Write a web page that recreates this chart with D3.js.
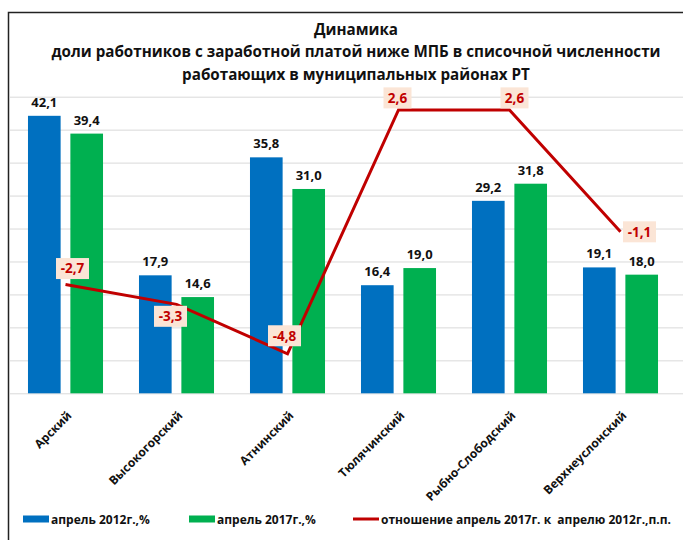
<!DOCTYPE html>
<html>
<head>
<meta charset="utf-8">
<script src="https://d3js.org/d3.v7.min.js"></script>
<style>
  body { margin: 0; background: #fff; }
  svg text { font-family: "Open Sans", "DejaVu Sans", sans-serif; font-weight: bold; }
</style>
</head>
<body>
<div id="chart"></div>
<script>

// data
var categories = ["Арский", "Высокогорский", "Атнинский", "Тюлячинский", "Рыбно-Слободский", "Верхнеуслонский"];
var values2012 = [42.1, 17.9, 35.8, 16.4, 29.2, 19.1];
var values2017 = [39.4, 14.6, 31.0, 19.0, 31.8, 18.0];
var diffPP = [-2.7, -3.3, -4.8, 2.6, 2.6, -1.1];
var seriesNames = ["апрель 2012г.,%", "апрель 2017г.,%", "отношение апрель 2017г. к  апрелю 2012г.,п.п."];
var titleLines = ["Динамика",
    "доли работников с заработной платой ниже МПБ в списочной численности",
    "работающих в муниципальных районах РТ"];
var yDomain = [0, 45];
var y2Domain = [-6, 3];

var width = 683, height = 540;
var plotLeft = 10, plotRight = 676, plotTop = 96.7, plotBottom = 393.3;

var blue = "#0070c0", green = "#00b050", red = "#c00000";

var ru = d3.formatLocale({decimal: ",", thousands: " ", grouping: [3], currency: ["", ""], minus: "-"});
var fmt = ru.format(".1f");

var svg = d3.select("#chart").append("svg")
    .attr("width", width)
    .attr("height", height);

// outer frame (only top and left visible, chart is cropped)
svg.append("path")
    .attr("d", "M8.5,540 L8.5,12.5 L683,12.5")
    .attr("fill", "none")
    .attr("stroke", "#222")
    .attr("stroke-width", 1.5);

// title
svg.append("g").selectAll("text")
    .data(titleLines)
    .enter().append("text")
    .attr("x", 356)
    .attr("y", function (d, i) { return [35, 57, 80][i]; })
    .attr("text-anchor", "middle")
    .attr("font-size", "15.2px")
    .attr("fill", "#111")
    .text(function (d) { return d; });

var x0 = d3.scaleBand()
    .domain(categories)
    .range([plotLeft, plotRight])
    .paddingInner(0.324)
    .paddingOuter(0.162);

var x1 = d3.scaleBand()
    .domain(["a", "b"])
    .range([0, x0.bandwidth()])
    .paddingInner(0.23);

var y = d3.scaleLinear().domain(yDomain).range([plotBottom, plotTop]);
var y2 = d3.scaleLinear().domain(y2Domain).range([plotBottom, plotTop]);

// gridlines
var grid = svg.append("g")
    .attr("transform", "translate(" + plotLeft + ",0)")
    .call(d3.axisLeft(y).tickValues(d3.range(yDomain[0], yDomain[1] + 1, 5)).tickSize(-(width - plotLeft)).tickFormat(""));
grid.select(".domain").remove();
grid.selectAll("line").attr("stroke", "#d9d9d9").attr("stroke-width", 1);

// bars
var groups = svg.append("g").selectAll("g")
    .data(categories)
    .enter().append("g")
    .attr("transform", function (d) { return "translate(" + x0(d) + ",0)"; });

groups.append("rect")
    .attr("x", x1("a"))
    .attr("y", function (d, i) { return y(values2012[i]); })
    .attr("width", x1.bandwidth())
    .attr("height", function (d, i) { return y(0) - y(values2012[i]); })
    .attr("fill", blue);

groups.append("rect")
    .attr("x", x1("b"))
    .attr("y", function (d, i) { return y(values2017[i]); })
    .attr("width", x1.bandwidth())
    .attr("height", function (d, i) { return y(0) - y(values2017[i]); })
    .attr("fill", green);

// bar value labels
groups.append("text")
    .attr("x", x1("a") + x1.bandwidth() / 2)
    .attr("y", function (d, i) { return y(values2012[i]) - 9; })
    .attr("text-anchor", "middle")
    .attr("font-size", "13px")
    .attr("fill", "#111")
    .text(function (d, i) { return fmt(values2012[i]); });

groups.append("text")
    .attr("x", x1("b") + x1.bandwidth() / 2)
    .attr("y", function (d, i) { return y(values2017[i]) - 9; })
    .attr("text-anchor", "middle")
    .attr("font-size", "13px")
    .attr("fill", "#111")
    .text(function (d, i) { return fmt(values2017[i]); });

// x axis labels
var xAxis = svg.append("g")
    .attr("transform", "translate(0," + plotBottom + ")")
    .call(d3.axisBottom(x0).tickSize(0).tickPadding(0));
xAxis.select(".domain").remove();
xAxis.selectAll("text")
    .attr("font-size", "12px")
    .attr("fill", "#111")
    .attr("text-anchor", "end")
    .attr("dy", "0.35em")
    .attr("transform", "translate(4,20) rotate(-45)");

// line on secondary axis
var cx = function (d, i) { return x0(categories[i]) + x0.bandwidth() / 2; };
var line = d3.line()
    .x(function (d, i) { return cx(d, i); })
    .y(function (d) { return y2(d); });

svg.append("path")
    .datum(diffPP)
    .attr("d", line)
    .attr("fill", "none")
    .attr("stroke", red)
    .attr("stroke-width", 3);

// line labels (hand placed like in the original)
var labelOffset = [[7, -16], [-6, 12], [-3, -18], [-1, -12], [5, -12], [19, 0]];
var lbl = svg.append("g").selectAll("g")
    .data(diffPP)
    .enter().append("g")
    .attr("transform", function (d, i) {
        return "translate(" + (cx(d, i) + labelOffset[i][0]) + "," + (y2(d) + labelOffset[i][1]) + ")";
    });

lbl.append("rect")
    .attr("x", function (d) { return d < 0 ? -16.5 : -14; })
    .attr("y", -10.5)
    .attr("width", function (d) { return d < 0 ? 33 : 28; })
    .attr("height", 21)
    .attr("fill", "#fbe5d6");

lbl.append("text")
    .attr("text-anchor", "middle")
    .attr("dy", "0.36em")
    .attr("font-size", "13.5px")
    .attr("fill", red)
    .text(function (d) { return fmt(d); });

// legend
var legendX = [23, 189, 353];
var legend = svg.append("g").selectAll("g")
    .data(seriesNames)
    .enter().append("g")
    .attr("transform", function (d, i) { return "translate(" + legendX[i] + ",519)"; });

legend.append("rect")
    .attr("x", 0)
    .attr("y", function (d, i) { return i < 2 ? -3.5 : -1.5; })
    .attr("width", 26)
    .attr("height", function (d, i) { return i < 2 ? 7 : 3; })
    .attr("fill", function (d, i) { return [blue, green, red][i]; });

legend.append("text")
    .attr("x", 28)
    .attr("y", 4.5)
    .attr("font-size", "12px")
    .attr("fill", "#111")
    .style("white-space", "pre")
    .text(function (d) { return d; });

</script>
</body>
</html>
